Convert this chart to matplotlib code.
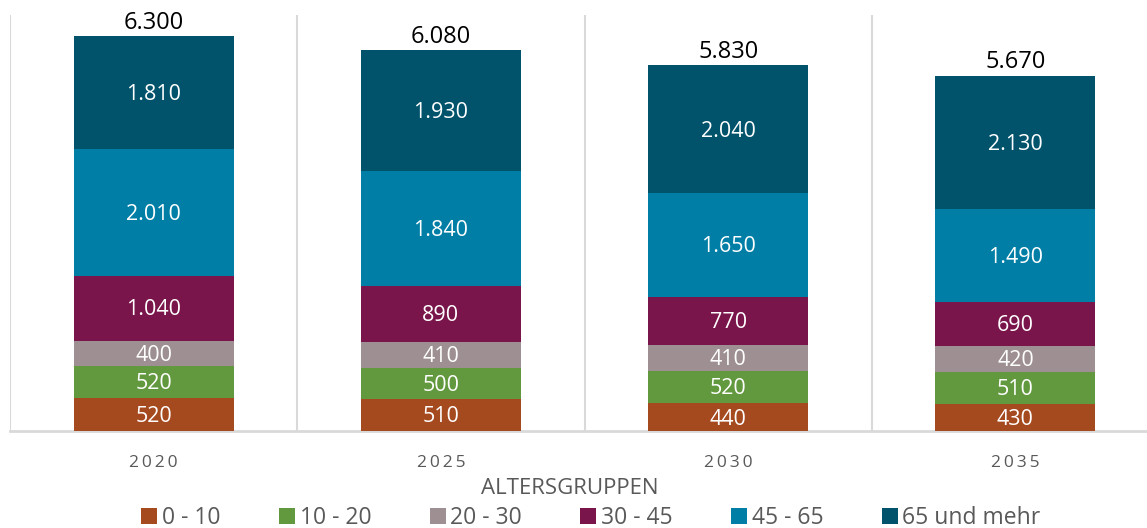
import numpy as np
import matplotlib.pyplot as plt

plt.rcParams['font.family'] = ['Open Sans', 'DejaVu Sans']

years = ['2020', '2025', '2030', '2035']
groups = ['0 - 10', '10 - 20', '20 - 30', '30 - 45', '45 - 65', '65 und mehr']
age_0_10 = [520, 510, 440, 430]
age_10_20 = [520, 500, 520, 510]
age_20_30 = [400, 410, 410, 420]
age_30_45 = [1040, 890, 770, 690]
age_45_65 = [2010, 1840, 1650, 1490]
age_65_plus = [1810, 1930, 2040, 2130]
series = [age_0_10, age_10_20, age_20_30, age_30_45, age_45_65, age_65_plus]
colors = ['#A5491F', '#62993E', '#9E9092', '#79154B', '#007EA6', '#01536C']


def fmt(v):
    return f'{v:,.0f}'.replace(',', '.')


fig = plt.figure(figsize=(11.47, 5.28), dpi=100)
ax = fig.add_axes([10 / 1147, 97 / 528, 1149 / 1147, 416 / 528])

x = np.arange(len(years))
bottom = np.zeros(len(years))
for vals, col, name in zip(series, colors, groups):
    vals = np.array(vals)
    bars = ax.bar(x, vals, width=0.557, bottom=bottom, color=col, label=name, zorder=3)
    for b, v, b0 in zip(bars, vals, bottom):
        ax.text(b.get_x() + b.get_width() / 2, b0 + v / 2 - 30, fmt(v), ha='center', va='center',
                color='white', fontsize=15.5, zorder=4)
    bottom += vals

for xi, tot in zip(x, bottom):
    ax.text(xi, tot + 20, fmt(tot), ha='center', va='bottom', color='black', fontsize=17, zorder=4)

ax.set_xlim(-0.5, 3.5)
ax.set_ylim(0, 6635)
ax.set_yticks([])
ax.set_xticks(x)
ax.set_xticklabels(['\u2009'.join(y) for y in years], fontsize=12.5, color='#595959')
ax.tick_params(axis='x', length=0, pad=17)
ax.set_xticks(np.arange(-0.5, 4.0, 1.0), minor=True)
ax.tick_params(axis='x', which='minor', length=0)
ax.grid(which='minor', axis='x', color='#d9d9d9', linewidth=1.5, zorder=0)
for s in ['top', 'right', 'left']:
    ax.spines[s].set_visible(False)
ax.spines['bottom'].set_color('#d9d9d9')
ax.spines['bottom'].set_linewidth(2)

fig.text(570 / 1147, 1 - 488 / 528, 'ALTERSGRUPPEN', ha='center', va='center',
         fontsize=16, color='#595959')

leg = fig.legend(loc='center', bbox_to_anchor=(591 / 1147, 1 - 518 / 528), ncol=6,
                 frameon=False, fontsize=16.5, handlelength=0.7, handleheight=0.7,
                 handletextpad=0.2, columnspacing=2.55, labelcolor='#595959')

fig.savefig('out.png', dpi=100)
